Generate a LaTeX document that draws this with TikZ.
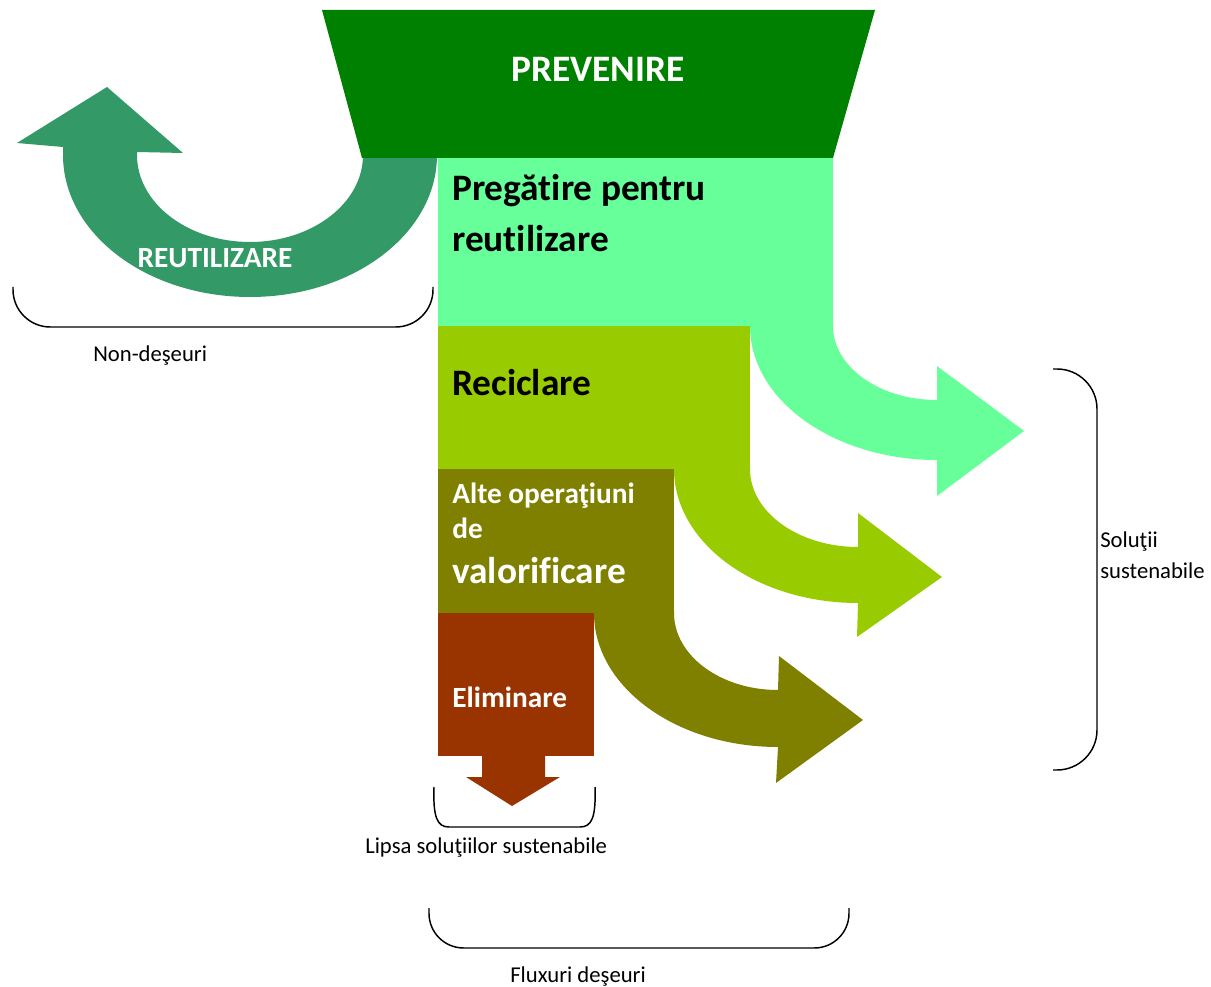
\documentclass[tikz,border=0pt]{standalone}
\usepackage{fontspec}
\setmainfont{Carlito}[Ligatures=NoCommon]
\usepackage{tikz}
\definecolor{prevgreen}{RGB}{0, 128, 0}
\definecolor{reusegreen}{RGB}{51, 153, 102}
\definecolor{prepgreen}{RGB}{102, 255, 153}
\definecolor{recyclime}{RGB}{153, 204, 0}
\definecolor{recovolive}{RGB}{128, 128, 0}
\definecolor{elimbrown}{RGB}{153, 51, 0}
\newcommand{\bigbold}{\fontsize{28}{33}\selectfont\bfseries}
\newcommand{\midbold}{\fontsize{22}{26}\selectfont\bfseries}
\newcommand{\smalltext}{\fontsize{17}{20}\selectfont}

\begin{document}
\begin{tikzpicture}[x=0.75pt, y=-0.75pt,
    lbl/.style={inner sep=0pt, anchor=base west},
    brace/.style={draw=black, line width=1.1pt}]
    \useasboundingbox (0,0) rectangle (1211,987);

    % reuse arrow, bent back to the left
    \fill[reusegreen] (437,155) arc[start angle=0, end angle=180, x radius=187, y radius=142]
        -- (63,147) -- (17,143) -- (107,87) -- (183,153) -- (137,152) -- (137,155)
        arc[start angle=180, end angle=0, x radius=113, y radius=87] -- cycle;

    % top of the funnel
    \fill[prevgreen] (322,10) -- (875,10) -- (833,158) -- (362,158) -- cycle;
    \node[inner sep=0pt, anchor=base, text=white] (prev) at (598,82) {\bigbold PREVENIRE};

    % curved arrows out of the steps
    \fill[prepgreen] (750,324) -- (750,326) arc[start angle=180, end angle=90, x radius=187, y radius=134]
        -- (937,496) -- (1024,431) -- (937,366) -- (937,400)
        arc[start angle=90, end angle=180, x radius=104, y radius=74] -- (833,324) -- cycle;
    \fill[recyclime] (674,467) -- (674,469) arc[start angle=180, end angle=90, x radius=184, y radius=134]
        -- (857,637) -- (942,577) -- (858,513) -- (858,547)
        arc[start angle=90, end angle=180, x radius=108, y radius=78] -- (750,467) -- cycle;
    \fill[recovolive] (594,611) -- (594,613) arc[start angle=180, end angle=90, x radius=184, y radius=134]
        -- (776,783) -- (863,720) -- (779,656) -- (778,690)
        arc[start angle=90, end angle=180, x radius=104, y radius=77] -- (674,611) -- cycle;

    % the steps
    \fill[prepgreen] (438,158) rectangle (833,326);
    \fill[recyclime] (438,326) rectangle (750,469);
    \fill[recovolive] (438,469) rectangle (674,613);
    \fill[elimbrown] (438,613) rectangle (594,756);
    \fill[elimbrown] (482,754) -- (545,754) -- (545,777) -- (560,777) -- (512,806) -- (466,777) -- (482,777) -- cycle;

    \node[lbl] (prepa) at (452,201) {\bigbold Pregătire pentru};
    \node[lbl] (prepb) at (452,252) {\bigbold reutilizare};
    \node[lbl] (recyc) at (452,396) {\bigbold Reciclare};
    \node[lbl, text=white] (recova) at (452,504) {\midbold Alte operaţiuni};
    \node[lbl, text=white] (recovb) at (452,539) {\midbold de};
    \node[lbl, text=white] (recovc) at (452,583) {\bigbold valorificare};
    \node[lbl, text=white] (elim) at (452,707) {\midbold Eliminare};
    \node[inner sep=0pt, anchor=base, text=white] (reuse) at (215,268) {\midbold REUTILIZARE};

    % brackets
    \draw[brace, rounded corners=28pt] (13,287) -- (13,327) -- (433,327) -- (433,287);
    \node[lbl] (nonwaste) at (93,362) {\smalltext Non-deşeuri};
    \draw[brace, rounded corners=30pt] (1053,369) -- (1097,369) -- (1097,770) -- (1053,770);
    \node[lbl] (solsa) at (1100,547) {\smalltext Soluţii};
    \node[lbl] (solsb) at (1100,578) {\smalltext sustenabile};
    \draw[brace] (434,787) .. controls (433,817) and (437,827) .. (449,827) -- (580,827)
        .. controls (592,827) and (596,817) .. (595,787);
    \node[lbl] (nosol) at (365,853) {\smalltext Lipsa soluţiilor sustenabile};
    \draw[brace, rounded corners=26pt] (429,908) -- (429,948) -- (849,948) -- (849,908);
    \node[lbl] (flows) at (510,982) {\smalltext Fluxuri deşeuri};
\end{tikzpicture}
\end{document}
